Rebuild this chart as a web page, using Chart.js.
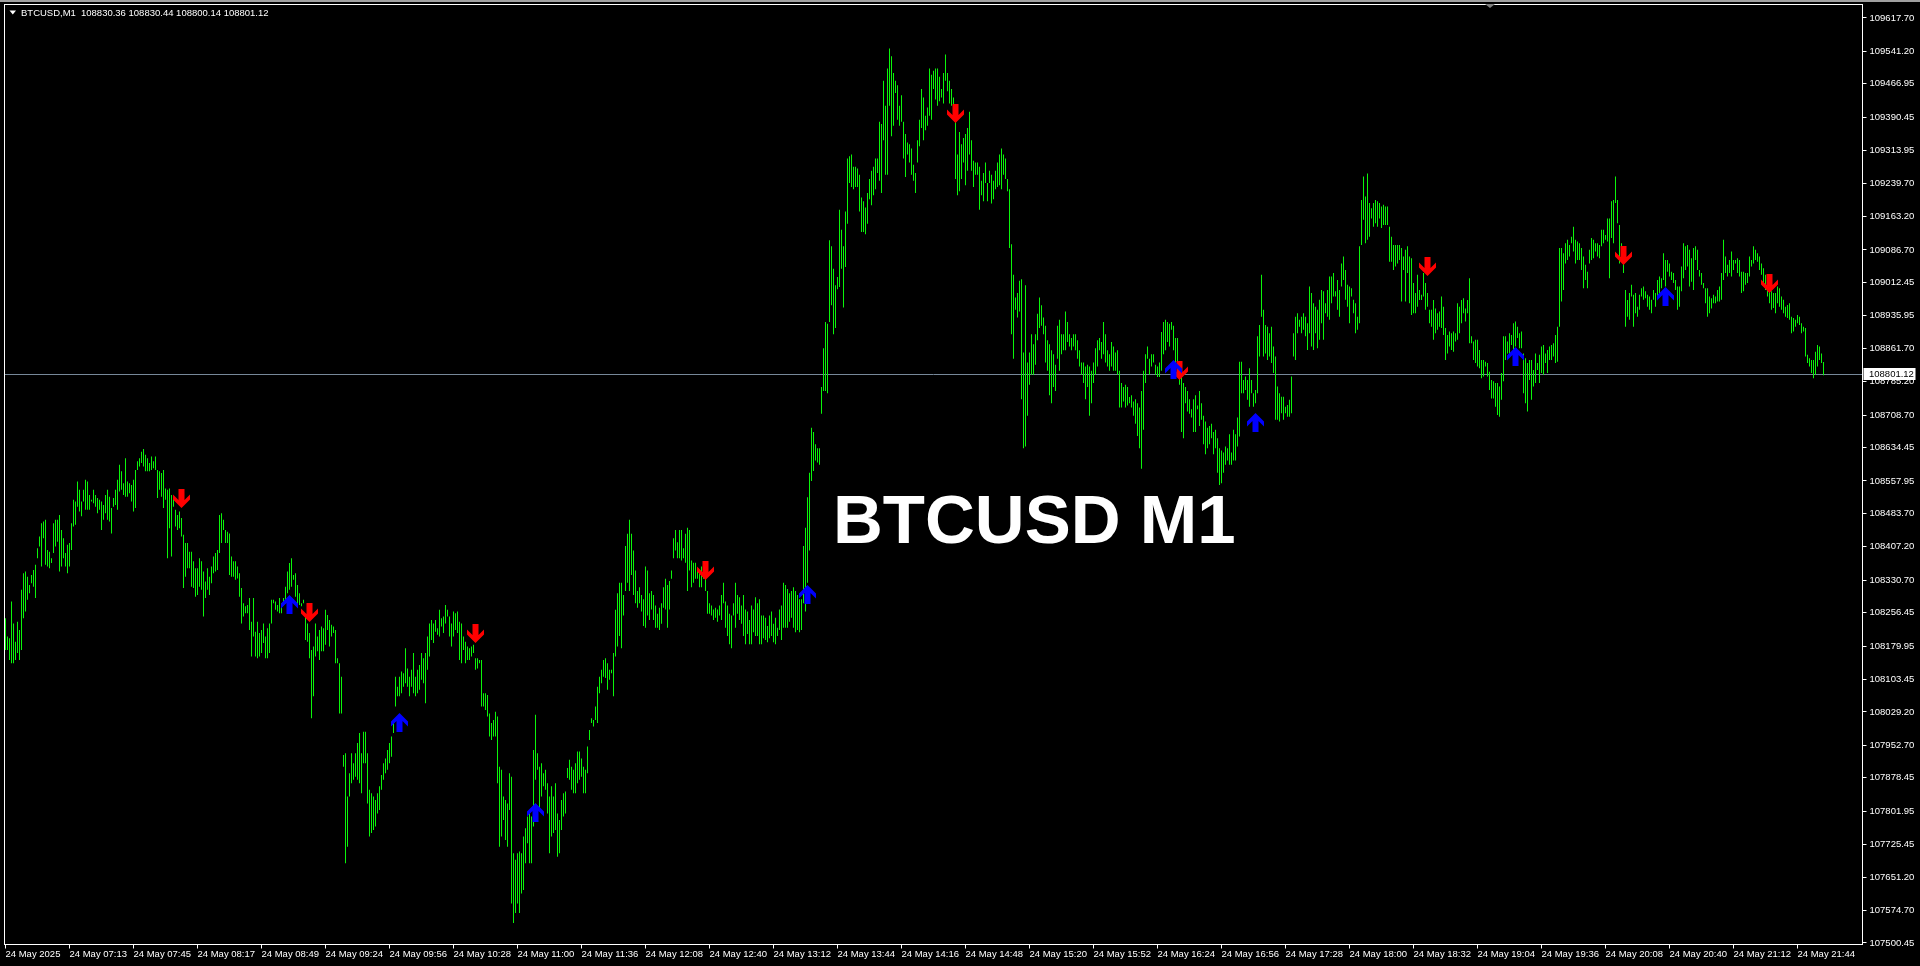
<!DOCTYPE html>
<html>
<head>
<meta charset="utf-8">
<title>BTCUSD M1</title>
<script src="https://cdn.jsdelivr.net/npm/chart.js@4.4.1/dist/chart.umd.min.js"></script>
<style>
  html, body { margin: 0; padding: 0; background: #000; overflow: hidden; }
  #wrap { position: relative; width: 1920px; height: 966px; }
</style>
</head>
<body>
<div id="wrap"><canvas id="chart"></canvas></div>
<script>
const symbol = "BTCUSD,M1";
const lastOHLC = ["108830.36", "108830.44", "108800.14", "108801.12"];
const lastPrice = 108801.12;
const title = "BTCUSD M1";

const yMin = 107497.0;
const yMax = 109648.6;

const timeLabels = ["24 May 2025","24 May 07:13","24 May 07:45","24 May 08:17","24 May 08:49","24 May 09:24",
  "24 May 09:56","24 May 10:28","24 May 11:00","24 May 11:36","24 May 12:08","24 May 12:40","24 May 13:12",
  "24 May 13:44","24 May 14:16","24 May 14:48","24 May 15:20","24 May 15:52","24 May 16:24","24 May 16:56",
  "24 May 17:28","24 May 18:00","24 May 18:32","24 May 19:04","24 May 19:36","24 May 20:08","24 May 20:40",
  "24 May 21:12","24 May 21:44"];
const barsPerLabel = 32;
const slotCount = 929;

const priceTicks = [109617.70,109541.20,109466.95,109390.45,109313.95,109239.70,109163.20,109086.70,109012.45,
  108935.95,108861.70,108785.20,108708.70,108634.45,108557.95,108483.70,108407.20,108330.70,108256.45,108179.95,
  108103.45,108029.20,107952.70,107878.45,107801.95,107725.45,107651.20,107574.70,107500.45];

// one M1 bar per entry, high and low
const highs = [
108244,108202,108198,108282,108232,108190,108236,108217,108309,108347,108351,108339,108320,108343,108354,108366,
108404,108431,108461,108465,108469,108400,108396,108381,108461,108469,108469,108480,108446,108427,108393,
108412,108416,108461,108515,108511,108557,108538,108511,108538,108561,108557,108526,108515,108538,108526,
108519,108515,108511,108503,108526,108538,108522,108496,108519,108538,108561,108595,108580,108553,108610,
108557,108553,108549,108561,108583,108603,108610,108625,108631,108618,108610,108599,108614,108603,108614,
108583,108580,108576,108583,108541,108538,108541,108526,108522,108492,108480,108488,108473,108435,108416,
108416,108396,108396,108374,108358,108358,108381,108374,108351,108328,108358,108339,108362,108385,108393,
108400,108480,108484,108469,108446,108442,108438,108385,108374,108374,108362,108347,108313,108278,108271,
108274,108290,108236,108290,108213,108236,108210,108217,108232,108202,108221,108232,108286,108286,108282,
108274,108290,108278,108290,
108316,108351,108370,108381,108343,108347,108320,108301,108278,108286,108248,108232,108210,108171,108179,
108232,108202,108217,108225,108221,108263,108251,108240,108229,108225,108217,108152,108141,108110,107931,
107935,107836,107889,107935,107912,107935,107958,107981,107935,107984,107984,107935,107851,107843,107836,
107828,107843,107859,107885,107912,107923,107942,107958,107973,108004,108110,108087,108110,108122,108118,
108175,108129,108110,108126,108164,108110,108126,108137,108164,108152,108164,108202,108232,108240,108232,
108240,108221,108263,108244,108248,108274,108263,108248,108232,108259,108255,108259,108236,108232,108202,
108190,108179,108175,108179,108183,108152,108152,108148,108148,108072,108072,108068,108026,108004,108011,
108030,108019,107904,107897,107836,107828,107820,107889,107881,107706,107691,107706,107710,107706,107744,
107763,107790,107797,107790,107942,108023,107935,107904,107912,107889,107897,107866,107836,107859,107836,
107866,107797,107782,107828,107843,107847,107901,107920,107904,107897,107912,107939,107939,107923,107904,
107897,107950,107988,108015,108011,108042,108087,108110,108126,108148,108152,108141,108126,108126,108164,
108263,108301,
108325,108325,108297,108409,108437,108469,108437,108399,108353,108306,108315,108297,108287,108362,108353,
108301,108306,108297,108273,108254,108268,108278,108315,108334,108320,108329,108353,108427,108446,108418,
108446,108446,108404,108437,108451,108446,108376,108371,108371,108357,108353,108362,108371,108353,108306,
108278,108273,108264,108268,108264,108273,108297,108325,108282,108273,108254,108250,108278,108325,108297,
108292,108273,108297,108264,108259,108240,108273,108264,108292,108278,108287,108250,108250,108245,108226,
108250,108259,108231,108245,
108222,108264,108273,108325,108320,108311,108301,108306,108315,108306,108297,108287,108287,108409,108451,
108521,108577,108680,108670,108642,108633,108633,108773,108862,108922,108918,109109,109095,109044,109006,
109025,109179,109133,109095,109175,109296,109301,109305,109277,109277,109273,109259,109207,109198,109184,
109217,109249,109268,109277,109296,109296,109380,109375,109474,109417,109502,109548,109530,109492,109474,
109464,109417,109441,109380,109352,109333,109329,109319,109282,109263,109338,109385,109455,109436,109394,
109413,109502,109488,109497,109502,109502,109483,109455,109492,109534,109492,109474,109455,109436,109380,
109305,109357,109329,109343,109352,109366,109403,109338,109291,109287,109287,109277,109245,109263,109287,
109240,109268,109259,109245,109268,109287,109305,109319,109305,109296,109249,109226,109100,109030,108978,
108988,109016,109020,108852,109006,108829,108852,108894,108871,108894,108941,108978,108960,108932,108913,
108880,108871,108857,108848,108824,108913,108927,108894,108894,108946,108922,108894,108885,108894,108894,
108880,108857,108829,108829,108820,108824,108820,108810,108829,108862,108880,108885,108876,108922,108894,
108857,108848,108876,108866,
108852,108857,108810,108782,108773,108778,108773,108750,108754,108740,108745,108736,108726,108764,108810,
108848,108866,108838,108848,108848,108824,108820,108829,108899,108922,108927,108922,108918,108922,108913,
108885,108885,108829,108801,108782,
108773,108764,108745,108722,
108745,108754,108731,108764,108736,108707,108694,108680,108684,108689,108670,108675,108656,108633,108628,
108623,108637,108633,108665,108623,
108675,108665,108703,
108831,108831,108789,108797,
108789,108816,108789,108759,108766,108889,108915,109030,108950,108915,108911,108896,108911,108866,108843,
108774,108759,108751,108751,108728,108732,108744,108797,108896,108934,108942,108927,108934,108942,108934,
108919,109003,108988,108965,108957,108950,108973,108995,108992,108965,108995,109026,109026,109034,108992,
109018,108995,109056,109072,109041,109007,109003,108999,108973,108965,108934,109095,109201,109255,109209,
109262,109194,109182,109194,109201,109198,109194,109186,109190,
109186,109186,109140,109117,109098,109098,109098,109098,109091,109072,109087,109095,109072,109068,109011,
108988,109030,108995,108984,109034,109011,108988,108950,108950,108972,108953,108942,108946,108980,108957,
108908,108892,108900,108896,108900,108896,108965,108957,108972,108976,108953,108972,109022,108889,108877,
108881,108881,108858,108835,108835,108831,108828,108808,108789,108786,108782,108782,108774,108805,108889,
108889,108877,108896,108892,108919,108923,108911,108896,108900,108850,108839,108828,108835,108835,108812,
108850,108828,108847,108866,108869,108850,108858,108866,108869,108873,108892,108911,109091,109091,109079,
109102,109110,109098,109117,109140,109110,109106,109102,109091,109072,109053,109037,109087,109114,109110,
109102,109102,109098,109133,109133,109121,109159,109159,109198,109201,109255,109201,109144,109102,109056,
108995,108972,108988,109007,108984,108988,108957,108984,108999,109003,108992,
108984,108980,108973,108995,108988,109018,109026,109022,109079,109064,109064,109056,109037,109034,109018,
109003,109003,109049,109102,109095,109098,109087,109068,109091,109095,109087,109041,109034,109011,108999,
108999,108980,108976,108984,108980,108995,109003,109034,109110,109072,109053,109064,109083,109064,109064,
109068,109064,109037,109037,109034,109034,109072,109064,109095,109087,109079,109072,109056,109045,109030,
109018,109003,108992,108988,108988,109003,108999,108980,108973,108957,108961,108965,108934,108931,108927,
108938,108934,108919,108911,108908,108847,108839,108835,108835,108854,108869,108866,108850,108830.44
];

const lows = [
108171,108171,108148,108141,108141,108148,108164,108148,108171,108244,108259,108286,108301,108324,108316,108290,
108381,108408,108362,108427,108366,108362,108358,108370,108393,108408,108419,108351,108362,108381,108362,
108347,108362,108400,108454,108458,108499,108488,108477,108511,108492,108492,108492,108511,108507,108499,
108484,108492,108446,108469,108484,108469,108465,108438,108499,108503,108492,108534,108538,108526,108522,
108522,108530,108511,108488,108496,108583,108591,108599,108591,108580,108580,108580,108583,108587,108583,
108519,108538,108522,108496,108515,108381,108450,108385,108499,108454,108446,108450,108431,108313,108339,
108358,108358,108316,108313,108293,108297,108316,108309,108248,108290,108309,108297,108324,108347,108351,
108354,108393,108416,108446,108416,108416,108343,108339,108339,108332,108335,108293,108232,108248,108255,
108255,108217,108156,108202,108156,108152,108156,108164,108187,108152,108152,108164,108232,108278,108263,
108259,108255,108255,108278,
108278,108301,108309,108316,108332,108293,108271,108274,108271,108278,108194,108190,108152,108015,108065,
108156,108168,108148,108168,108168,108183,108217,108179,108202,108210,108141,108141,108026,108026,107904,
107683,107721,107836,107866,107874,107881,107874,107866,107843,107912,107912,107820,107744,107752,107759,
107767,107797,107805,107851,107874,107889,107897,107912,107927,107981,108042,108065,108065,108072,108087,
108095,108087,108065,108087,108072,108065,108072,108080,108103,108095,108049,108126,108156,108194,108187,
108213,108206,108202,108225,108210,108232,108248,108202,108179,108202,108217,108210,108148,108141,108171,
108141,108148,108148,108156,108164,108126,108129,108141,108042,108042,108034,108019,107973,107965,107973,
107973,107866,107721,107744,107782,107736,107721,107805,107591,107546,107569,107591,107569,107614,107622,
107683,107729,107683,107683,107767,107874,107897,107805,107836,107859,107851,107797,107706,107744,107752,
107759,107698,107706,107759,107790,107797,107878,107874,107851,107843,107843,107866,107874,107881,107843,
107843,107889,107965,108004,107996,108011,108004,108072,108095,108110,108107,108080,108103,108118,108065,
108156,108179,
108203,108175,108250,108306,108325,108306,108343,108297,108278,108268,108278,108259,108226,108222,108250,
108240,108264,108240,108222,108222,108217,108231,108268,108264,108222,108264,108334,108381,108399,108381,
108381,108376,108381,108371,108306,108353,108315,108325,108334,108334,108315,108315,108334,108306,108254,
108254,108250,108240,108245,108236,108250,108240,108278,108222,108203,108184,108175,108250,108222,108254,
108240,108231,108203,108184,108208,108184,108184,108212,108203,108203,108184,108184,108198,108194,108189,
108198,108203,108189,108184,
108203,108217,108194,108222,108222,108222,108236,108245,108222,108212,108217,108212,108217,108278,108259,
108325,108399,108558,108581,108605,108600,108595,108712,108764,108764,108759,108922,108960,108894,108908,
108997,109002,109044,108955,109048,109147,109240,109231,109226,109231,109231,109175,109128,109128,109123,
109147,109203,109189,109212,109226,109263,109245,109217,109338,109259,109259,109417,109347,109371,109446,
109385,109371,109380,109296,109254,109305,109287,109259,109245,109217,109287,109324,109366,109338,109361,
109371,109394,109385,109455,109431,109417,109427,109436,109422,109474,109450,109422,109417,109385,109249,
109212,109221,109249,109287,109235,109268,109305,109268,109231,109259,109259,109179,109212,109198,109240,
109198,109240,109193,109203,109226,109231,109235,109226,109259,109249,109221,109091,108894,108838,108950,
108932,108946,108745,108633,108637,108707,108778,108801,108801,108824,108880,108908,108913,108894,108829,
108810,108754,108736,108773,108764,108838,108810,108848,108857,108857,108876,108866,108857,108866,108857,
108838,108820,108801,108782,108745,108773,108707,108736,108782,108801,108820,108857,108838,108848,108829,
108820,108810,108820,108810,
108810,108801,108726,108726,108740,108726,108731,108736,108726,108707,108689,108661,108633,108586,108675,
108782,108838,108801,108820,108829,108801,108796,108796,108810,108848,108857,108876,108866,108904,108857,
108810,108820,108778,108670,108656,
108736,108717,108712,108703,
108670,108670,108722,108684,108698,108642,108619,108633,108642,108656,108619,108633,108577,108549,108553,
108577,108595,108605,108595,108595,
108605,108605,108637,
108660,108759,108759,108766,
108744,108728,108759,108728,108736,108759,108843,108934,108843,108850,108835,108843,108828,108805,108698,
108698,108694,108713,108698,108713,108705,108705,108713,108843,108835,108896,108911,108896,108904,108889,
108858,108896,108866,108858,108896,108862,108881,108919,108881,108942,108934,108927,108965,108980,108980,
108950,108934,109003,109018,108973,108957,108919,108980,108942,108896,108904,108919,109098,109156,109102,
109110,109117,109159,109140,109148,109140,109159,109137,109144,
109144,109144,109060,109060,109041,109049,109056,109064,108969,109041,108969,109034,108965,108938,108942,
108942,108957,108972,108972,108980,108950,108957,108919,108911,108881,108896,108904,108911,108908,108892,
108835,108850,108866,108858,108854,108877,108881,108896,108919,108942,108923,108942,108873,108873,108835,
108828,108820,108816,108793,108797,108820,108797,108766,108747,108747,108728,108709,108705,108744,108786,
108835,108850,108843,108869,108843,108866,108885,108862,108862,108759,108736,108717,108789,108744,108774,
108782,108812,108782,108805,108801,108828,108805,108835,108835,108843,108828,108831,108911,108969,108995,
109056,109064,109072,109102,109083,109056,109064,109064,109041,108999,109018,108999,109056,109064,109068,
109083,109072,109068,109095,109102,109110,109106,109022,109114,109102,109194,109148,109056,109060,109034,
108911,108934,108927,108980,108911,108942,108934,108950,108980,108973,108976,
108957,108950,108942,108973,108957,108980,108980,108999,109018,109003,109037,109026,109018,109011,108995,
108950,108957,108992,109022,109041,109049,109003,109014,108995,109064,109041,109026,109007,108999,108965,
108934,108942,108953,108965,108965,108969,108969,108973,109018,109034,109026,109034,109026,109041,109056,
109034,109026,108988,108992,109007,109011,109026,109049,109056,109064,109060,109041,109030,109007,108995,
108980,108965,108950,108954,108942,108965,108957,108950,108942,108934,108931,108927,108896,108900,108911,
108919,108915,108896,108900,108843,108828,108820,108805,108793,108801,108820,108835,108828,108800.14
];

// signal arrows: [bar index, price]
const upArrows = [[142,108276],[197,108004],[265,107800],[401,108299],[584,108812],[625,108691],[755,108844],[830,108981]];
const downArrows = [[88,108519],[152,108258],[235,108210],[350,108352],[475,109400],[587,108810],[711,109050],[809,109075],[882,109011]];

const barColor = "rgb(10,245,10)";
const upColor = "rgb(0,0,255)";
const downColor = "rgb(255,0,0)";
const fgColor = "#ffffff";
const bidLineColor = "rgb(119,136,153)";
const uiFont = 'Tahoma, "Liberation Sans", Arial, sans-serif';

// thick wingdings-like arrow, drawn once and used as the point style
function arrowImage(color, down) {
  const c = document.createElement("canvas");
  c.width = 17; c.height = 19;
  const g = c.getContext("2d");
  if (down) { g.translate(0, 19); g.scale(1, -1); }
  g.fillStyle = color;
  g.beginPath();
  g.moveTo(8.5, 0);
  g.lineTo(17, 8.5);
  g.lineTo(17, 13.5);
  g.lineTo(11.5, 8);
  g.lineTo(11.5, 19);
  g.lineTo(5.5, 19);
  g.lineTo(5.5, 8);
  g.lineTo(0, 13.5);
  g.lineTo(0, 8.5);
  g.closePath();
  g.fill();
  return c;
}

const labels = [];
for (let i = 0; i < slotCount; i++) labels.push("");
timeLabels.forEach((t, k) => { labels[k * barsPerLabel] = t; });

const bars = highs.map((h, i) => [lows[i], h]);
const upData = highs.map(() => null);
upArrows.forEach(a => { upData[a[0]] = a[1]; });
const downData = highs.map(() => null);
downArrows.forEach(a => { downData[a[0]] = a[1]; });

const mtPlugin = {
  id: "mt4look",
  beforeDraw(chart) {
    const ctx = chart.ctx;
    ctx.save();
    ctx.fillStyle = "#000";
    ctx.fillRect(0, 0, chart.width, chart.height);
    ctx.fillStyle = "#a0a0a0";
    ctx.fillRect(0, 0, chart.width, 2);
    ctx.restore();
  },
  beforeDatasetsDraw(chart) {
    const ctx = chart.ctx;
    const a = chart.chartArea;
    const y = Math.round(chart.scales.y.getPixelForValue(lastPrice)) - 0.5;
    ctx.save();
    ctx.strokeStyle = bidLineColor;
    ctx.lineWidth = 1;
    ctx.beginPath();
    ctx.moveTo(a.left, y);
    ctx.lineTo(a.right, y);
    ctx.stroke();
    ctx.restore();
    chart.ctx.imageSmoothingEnabled = false;
  },
  afterDraw(chart) {
    const ctx = chart.ctx;
    const a = chart.chartArea;
    ctx.save();
    // frame
    ctx.strokeStyle = fgColor;
    ctx.lineWidth = 1;
    ctx.strokeRect(a.left, a.top, a.right - a.left, a.bottom - a.top);

    // bid price box on the axis
    const y = Math.round(chart.scales.y.getPixelForValue(lastPrice));
    ctx.fillStyle = "#fff";
    ctx.fillRect(a.right + 1, y - 7, 52, 12);
    ctx.fillStyle = "#000";
    ctx.font = "9.5px " + uiFont;
    ctx.textBaseline = "middle";
    ctx.textAlign = "left";
    ctx.fillText(lastPrice.toFixed(2), a.right + 6.5, y - 0.5);

    // header line
    ctx.fillStyle = fgColor;
    ctx.beginPath();
    ctx.moveTo(9.5, 10.5);
    ctx.lineTo(16, 10.5);
    ctx.lineTo(12.75, 14.5);
    ctx.closePath();
    ctx.fill();
    ctx.textBaseline = "alphabetic";
    ctx.fillText(symbol, 21, 16);
    ctx.fillText(lastOHLC.join(" "), 81, 16);

    // shift marker
    ctx.fillStyle = "#808080";
    ctx.beginPath();
    ctx.moveTo(1485, 4);
    ctx.lineTo(1495, 4);
    ctx.lineTo(1490, 8);
    ctx.closePath();
    ctx.fill();

    // big label
    ctx.fillStyle = fgColor;
    ctx.font = 'bold 69px "Liberation Sans", Arial, sans-serif';
    ctx.textAlign = "left";
    ctx.fillText(title, 833, 543);
    ctx.restore();
  }
};

const tickFont = { family: uiFont, size: 9.5 };

new Chart(document.getElementById("chart").getContext("2d"), {
  type: "bar",
  data: {
    labels: labels,
    datasets: [{
      type: "bar",
      label: "BTCUSD",
      data: bars,
      backgroundColor: barColor,
      borderWidth: 0,
      barThickness: 1,
      inflateAmount: 0,
      order: 3
    }, {
      type: "line",
      label: "Buy",
      data: upData,
      showLine: false,
      pointStyle: arrowImage(upColor, false),
      pointRadius: 9,
      order: 1
    }, {
      type: "line",
      label: "Sell",
      data: downData,
      showLine: false,
      pointStyle: arrowImage(downColor, true),
      pointRadius: 9,
      order: 2
    }]
  },
  options: {
    responsive: true,
    maintainAspectRatio: false,
    animation: false,
    devicePixelRatio: 1,
    events: [],
    layout: { autoPadding: false, padding: { left: 4.5, top: 4.5, right: 0, bottom: 0 } },
    plugins: { legend: { display: false }, tooltip: { enabled: false } },
    scales: {
      x: {
        offset: true,
        grid: { drawOnChartArea: false, offset: false, color: fgColor, tickLength: 4 },
        border: { display: false },
        ticks: { color: fgColor, font: tickFont, autoSkip: false, maxRotation: 0, minRotation: 0, align: "start", padding: 0 },
        afterBuildTicks: s => { s.ticks = timeLabels.map((t, k) => ({ value: k * barsPerLabel })); },
        afterFit: s => { s.height = 21.5; s.paddingLeft = 0; s.paddingRight = 0; }
      },
      y: {
        position: "right",
        min: yMin,
        max: yMax,
        grid: { drawOnChartArea: false, color: fgColor, tickLength: 4 },
        border: { display: false },
        ticks: { color: fgColor, font: tickFont, autoSkip: false, padding: 3, callback: v => Number(v).toFixed(2) },
        afterBuildTicks: s => { s.ticks = priceTicks.map(v => ({ value: v })); },
        afterFit: s => { s.width = 57.5; s.paddingTop = 0; s.paddingBottom = 0; }
      }
    }
  },
  plugins: [mtPlugin]
});
</script>
</body>
</html>
